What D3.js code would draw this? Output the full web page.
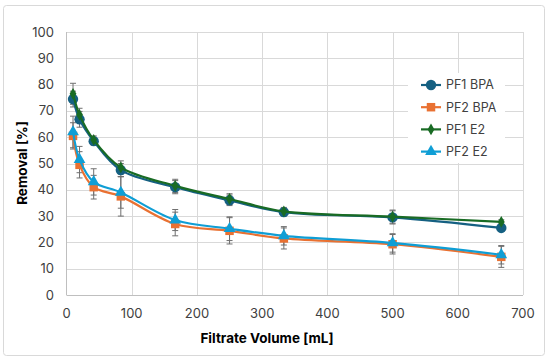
<!DOCTYPE html>
<html><head><meta charset="utf-8">
<script src="https://cdn.jsdelivr.net/npm/d3@7"></script>
<style>html,body{margin:0;padding:0;background:#fff;}svg{display:block;font-family:Inter,"Open Sans",sans-serif;}</style>
</head><body><svg id="c" width="550" height="362"></svg>
<script>
const volumes = [10, 20, 41.7, 83.3, 166.7, 250, 333.3, 500, 666.7];
const pf1Bpa = [74.5, 66.8, 58.5, 47.5, 41, 36, 31.5, 29.5, 25.5];
const pf2Bpa = [60.5, 49.5, 41, 37.5, 27, 24.4, 21.5, 19.3, 14.5];
const pf1E2  = [76.5, 68.5, 59, 48.5, 41.5, 36.5, 31.8, 29.8, 27.8];
const pf2E2  = [62, 51.5, 43, 39, 28.5, 25.2, 22.5, 19.8, 15.3];
const pf1BpaErr = [3, 3, 1.5, 2.5, 2.5, 2, 1.5, 2.5, 0.8];
const pf2BpaErr = [5, 5, 4.5, 7.5, 4.5, 5, 4, 3.7, 4];
const pf1E2Err  = [4, 2.5, 1.5, 2.5, 2.5, 2, 1.5, 2.5, 0.8];
const pf2E2Err  = [6, 5, 5, 6, 4, 4.5, 3.5, 3.5, 3.5];
const seriesNames = ["PF1 BPA", "PF2 BPA", "PF1 E2", "PF2 E2"];
const xTicks = [0, 100, 200, 300, 400, 500, 600, 700];
const yTicks = [0, 10, 20, 30, 40, 50, 60, 70, 80, 90, 100];

const series = [
  {name: seriesNames[0], vals: pf1Bpa, err: pf1BpaErr, color: "#156082", sym: d3.symbolCircle, size: 85},
  {name: seriesNames[1], vals: pf2Bpa, err: pf2BpaErr, color: "#E97132", sym: d3.symbolSquare, size: 72},
  {name: seriesNames[2], vals: pf1E2,  err: pf1E2Err,  color: "#196B24", sym: d3.symbolDiamond, size: 40},
  {name: seriesNames[3], vals: pf2E2,  err: pf2E2Err,  color: "#0F9ED5", sym: d3.symbolTriangle, size: 60}
];

const svg = d3.select("#c");
svg.append("rect").attr("x", 3.5).attr("y", 5.5).attr("width", 541).attr("height", 350)
  .attr("fill", "#fff").attr("stroke", "#d9d9d9").attr("rx", 3);

const x = d3.scaleLinear().domain([0, 700]).range([66.5, 523]);
const y = d3.scaleLinear().domain([0, 100]).range([295, 32]);

const g = svg.append("g");
g.selectAll(".hg").data(yTicks.filter(d => d > 0)).join("line")
  .attr("x1", x(0)).attr("x2", x(700)).attr("y1", d => Math.round(y(d)) + 0.5).attr("y2", d => Math.round(y(d)) + 0.5)
  .attr("stroke", "#d9d9d9").attr("stroke-width", 1);
g.selectAll(".vg").data(xTicks.filter(d => d > 0)).join("line")
  .attr("y1", y(0)).attr("y2", y(100)).attr("x1", d => Math.round(x(d)) + 0.5).attr("x2", d => Math.round(x(d)) + 0.5)
  .attr("stroke", "#d9d9d9").attr("stroke-width", 1);
g.append("line").attr("x1", 66.5).attr("x2", 66.5).attr("y1", y(0)).attr("y2", y(100)).attr("stroke", "#bfbfbf");
g.append("line").attr("x1", x(0)).attr("x2", x(700)).attr("y1", Math.round(y(0)) + 0.5).attr("y2", Math.round(y(0)) + 0.5).attr("stroke", "#bfbfbf");

g.selectAll(".yt").data(yTicks).join("text")
  .attr("x", 54).attr("y", d => y(d)).attr("dy", "0.35em").attr("text-anchor", "end")
  .attr("font-size", 13).attr("fill", "#404040").text(d => d);
g.selectAll(".xt").data(xTicks).join("text")
  .attr("x", d => x(d)).attr("y", 313).attr("dy", "0.35em").attr("text-anchor", "middle")
  .attr("font-size", 13).attr("fill", "#404040").text(d => d);

svg.append("text").attr("x", 267).attr("y", 338).attr("dy", "0.35em").attr("text-anchor", "middle")
  .attr("font-size", 13.5).attr("font-weight", "bold").attr("fill", "#000").text("Filtrate Volume [mL]");
svg.append("text").attr("transform", "translate(22,163) rotate(-90)").attr("dy", "0.35em").attr("text-anchor", "middle")
  .attr("font-size", 13.5).attr("font-weight", "bold").attr("fill", "#000").text("Removal [%]");

series.forEach(s => {
  const eg = g.append("g").attr("stroke", "#6f6f6f").attr("stroke-width", 1).attr("fill", "none");
  volumes.forEach((v, i) => {
    const cx = x(v), lo = y(s.vals[i] - s.err[i]), hi = y(s.vals[i] + s.err[i]);
    eg.append("line").attr("x1", cx).attr("x2", cx).attr("y1", lo).attr("y2", hi);
    eg.append("line").attr("x1", cx - 3).attr("x2", cx + 3).attr("y1", lo).attr("y2", lo);
    eg.append("line").attr("x1", cx - 3).attr("x2", cx + 3).attr("y1", hi).attr("y2", hi);
  });
});

const line = d3.line().x(d => x(d[0])).y(d => y(d[1])).curve(d3.curveCatmullRom.alpha(0.5));
series.forEach(s => {
  const pts = volumes.map((v, i) => [v, s.vals[i]]);
  g.append("path").attr("d", line(pts)).attr("fill", "none").attr("stroke", s.color).attr("stroke-width", 2.2);
  g.selectAll(null).data(pts).join("path")
    .attr("transform", d => `translate(${x(d[0])},${y(d[1])})`)
    .attr("d", d3.symbol().type(s.sym).size(s.size)).attr("fill", s.color);
});

const lg = svg.append("g");
lg.append("rect").attr("x", 408).attr("y", 73).attr("width", 97).attr("height", 90).attr("fill", "#fff");
series.forEach((s, i) => {
  const ly = 85 + i * 22.2;
  lg.append("line").attr("x1", 421).attr("x2", 441).attr("y1", ly).attr("y2", ly).attr("stroke", s.color).attr("stroke-width", 2.2);
  lg.append("path").attr("transform", `translate(431,${ly})`).attr("d", d3.symbol().type(s.sym).size(s.size)).attr("fill", s.color);
  lg.append("text").attr("x", 446).attr("y", ly).attr("dy", "0.35em").attr("font-size", 12.5).attr("fill", "#404040").text(s.name);
});
</script></body></html>
